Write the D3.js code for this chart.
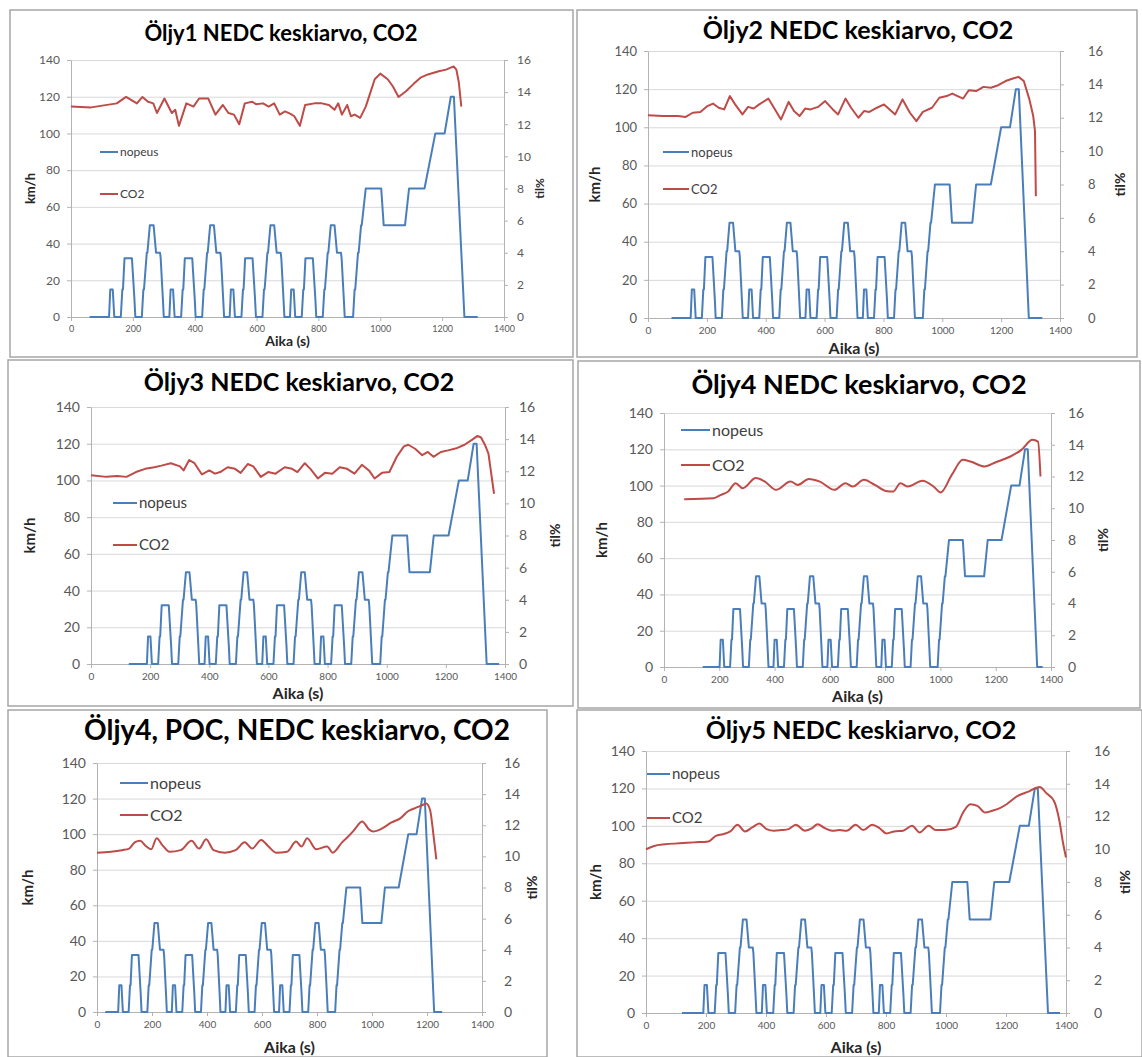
<!DOCTYPE html>
<html>
<head>
<meta charset="utf-8">
<script src="https://cdn.jsdelivr.net/npm/d3@7"></script>
<style>
  body { margin: 0; background: #ffffff; }
  svg { display: block; font-family: Lato, "Liberation Sans", sans-serif; }
</style>
</head>
<body>
<svg id="chart" width="1142" height="1057"></svg>
<script>
// ---- Data ---------------------------------------------------------------
const panelTitles = [
  "Öljy1 NEDC keskiarvo, CO2",
  "Öljy2 NEDC keskiarvo, CO2",
  "Öljy3 NEDC keskiarvo, CO2",
  "Öljy4 NEDC keskiarvo, CO2",
  "Öljy4, POC, NEDC keskiarvo, CO2",
  "Öljy5 NEDC keskiarvo, CO2"
];
const seriesNames = ["nopeus", "CO2"];
const timeTicks = [0, 200, 400, 600, 800, 1000, 1200, 1400];
const speedTicks = [0, 20, 40, 60, 80, 100, 120, 140];
const co2Ticks = [0, 2, 4, 6, 8, 10, 12, 14, 16];

// One urban (ECE) cycle: [s from cycle start, km/h]
const urbanCycle = [
  [0, 0], [11, 0], [15, 15], [23, 15], [28, 0], [49, 0], [54, 15], [56, 15], [61, 32],
  [85, 32], [93, 10], [96, 0], [117, 0], [122, 15], [124, 15], [133, 35], [135, 35],
  [143, 50], [155, 50], [163, 35], [176, 35], [178, 32], [185, 10], [188, 0]
];
const urbanCycleLength = 195;
const urbanCycleCount = 4;
// Extra-urban (EUDC) part: [s from its start, km/h]
const extraUrbanCycle = [
  [0, 0], [20, 0], [25, 15], [27, 15], [36, 35], [38, 35], [46, 50], [48, 50], [61, 70],
  [111, 70], [119, 50], [188, 50], [201, 70], [251, 70], [286, 100], [316, 100],
  [336, 120], [346, 120], [380, 0]
];
// Per chart: time when the speed trace begins, when the first urban cycle begins, and when the trace ends (s)
const speedTraceStart = [60, 80, 128, 140, 30, 120];
const speedCycleStart = [112, 134, 178, 190, 66, 180];
const speedTraceEnd = [1315, 1340, 1380, 1370, 1255, 1380];

// CO2 averages: [s, til%]
const co2Oljy1 = [
  [0, 13.1], [65, 13.05], [148, 13.3], [178, 13.7], [213, 13.3], [231, 13.7], [249, 13.4], [266, 13.3],
  [278, 12.7], [302, 13.6], [326, 12.7], [337, 12.9], [349, 11.9], [373, 13.3], [396, 13.1], [414, 13.6],
  [444, 13.6], [467, 12.6], [491, 13.2], [509, 12.7], [527, 12.6], [544, 12.0], [562, 13.3], [586, 13.4],
  [598, 13.25], [621, 13.3], [639, 13.1], [657, 13.3], [675, 12.6], [692, 12.8], [710, 12.65], [722, 12.5],
  [740, 11.9], [757, 13.2], [787, 13.3], [811, 13.3], [834, 13.2], [852, 12.9], [864, 13.3], [876, 12.6],
  [893, 13.2], [905, 12.5], [917, 12.6], [935, 12.4], [953, 13.1], [965, 13.8], [982, 14.8], [1000, 15.15],
  [1024, 14.8], [1041, 14.35], [1059, 13.7], [1083, 14.05], [1107, 14.5], [1130, 14.9], [1154, 15.1],
  [1189, 15.3], [1213, 15.4], [1237, 15.6], [1246, 15.4], [1254, 14.6], [1262, 13.1]
];
const co2Oljy2 = [
  [0, 12.15], [52, 12.1], [102, 12.1], [128, 12.05], [152, 12.3], [178, 12.35], [202, 12.7], [221, 12.85],
  [240, 12.6], [259, 12.5], [278, 13.3], [296, 12.8], [321, 12.2], [340, 12.65], [359, 12.55], [378, 12.8],
  [409, 13.15], [428, 12.6], [452, 11.9], [478, 12.95], [496, 12.4], [515, 12.1], [534, 12.55], [552, 12.5],
  [578, 12.65], [602, 13.0], [628, 12.5], [646, 12.2], [671, 13.15], [690, 12.6], [715, 12.0], [734, 12.4],
  [752, 12.35], [778, 12.6], [802, 12.8], [821, 12.5], [840, 12.2], [865, 13.1], [890, 12.3], [912, 11.8],
  [934, 12.35], [965, 12.6], [990, 13.2], [1015, 13.3], [1034, 13.45], [1052, 13.3], [1071, 13.15],
  [1090, 13.65], [1115, 13.6], [1140, 13.85], [1165, 13.8], [1190, 13.95], [1215, 14.2], [1240, 14.35],
  [1259, 14.45], [1277, 14.2], [1296, 13.1], [1309, 12.1], [1315, 11.2], [1318, 7.3]
];
const co2Oljy3 = [
  [0, 11.75], [52, 11.65], [89, 11.7], [120, 11.65], [152, 11.95], [183, 12.15], [214, 12.25], [238, 12.35],
  [270, 12.5], [301, 12.3], [313, 12.05], [332, 12.7], [350, 12.5], [375, 11.8], [400, 12.05], [419, 11.85],
  [437, 11.95], [462, 12.25], [487, 12.15], [506, 11.9], [530, 12.45], [549, 12.3], [574, 11.65], [599, 11.95],
  [624, 11.85], [655, 12.25], [680, 12.15], [698, 11.95], [723, 12.5], [742, 12.15], [767, 11.55], [791, 11.9],
  [816, 11.85], [841, 12.25], [866, 12.15], [891, 11.85], [916, 12.4], [940, 12.05], [959, 11.55], [984, 11.9],
  [1009, 11.95], [1034, 12.9], [1058, 13.55], [1073, 13.65], [1096, 13.4], [1120, 13.0], [1139, 13.2],
  [1158, 12.9], [1183, 13.2], [1207, 13.3], [1239, 13.45], [1263, 13.65], [1288, 13.95], [1307, 14.2],
  [1319, 14.1], [1332, 13.65], [1344, 13.1], [1363, 10.6]
];
const co2Oljy4 = [
  [73, 10.57], [179, 10.63], [206, 10.84], [232, 11.05], [259, 11.58], [285, 11.26], [332, 11.9], [365, 11.68],
  [405, 11.16], [458, 11.68], [484, 11.47], [524, 11.85], [564, 11.68], [617, 11.16], [656, 11.58], [683, 11.37],
  [723, 11.79], [763, 11.47], [802, 11.09], [829, 11.05], [855, 11.58], [882, 11.37], [935, 11.73], [975, 11.37],
  [1001, 11.0], [1041, 12.1], [1081, 13.05], [1108, 12.95], [1160, 12.63], [1200, 12.9], [1253, 13.26],
  [1293, 13.68], [1333, 14.32], [1353, 14.2], [1362, 12.0]
];
const co2Oljy4Poc = [
  [0, 10.24], [51, 10.3], [91, 10.4], [117, 10.5], [137, 10.9], [157, 11.0], [177, 10.67], [197, 10.46],
  [217, 11.17], [237, 10.74], [264, 10.3], [304, 10.4], [344, 11.0], [371, 10.5], [397, 11.1], [424, 10.4],
  [464, 10.24], [504, 10.4], [537, 10.9], [564, 10.5], [597, 11.06], [624, 10.63], [651, 10.24], [691, 10.3],
  [724, 10.95], [744, 10.63], [764, 11.17], [797, 10.46], [837, 10.63], [857, 10.24], [891, 10.9], [931, 11.6],
  [944, 11.9], [964, 12.24], [991, 11.7], [1004, 11.6], [1037, 11.8], [1071, 12.18], [1104, 12.46],
  [1131, 12.9], [1157, 13.1], [1184, 13.3], [1197, 13.4], [1211, 13.0], [1224, 11.3], [1234, 9.8]
];
const co2Oljy5 = [
  [0, 10.0], [27, 10.2], [63, 10.3], [111, 10.36], [160, 10.42], [208, 10.48], [233, 10.82], [257, 10.92],
  [281, 11.09], [305, 11.5], [330, 11.09], [354, 11.33], [378, 11.57], [402, 11.23], [427, 11.13], [451, 11.17],
  [475, 11.23], [499, 11.5], [530, 11.13], [554, 11.29], [572, 11.53], [596, 11.29], [621, 11.13], [645, 11.17],
  [669, 11.13], [699, 11.5], [724, 11.17], [754, 11.5], [778, 11.29], [802, 10.96], [827, 11.09], [857, 11.13],
  [887, 11.43], [912, 11.03], [942, 11.43], [966, 11.17], [996, 11.17], [1033, 11.37], [1057, 12.24],
  [1081, 12.75], [1105, 12.65], [1130, 12.24], [1154, 12.35], [1178, 12.5], [1202, 12.75], [1239, 13.26],
  [1275, 13.52], [1312, 13.8], [1336, 13.4], [1360, 12.95], [1378, 11.74], [1390, 10.4], [1400, 9.5]
];
const co2Series = [co2Oljy1, co2Oljy2, co2Oljy3, co2Oljy4, co2Oljy4Poc, co2Oljy5];

// ---- Layout (pixels) ------------------------------------------------------
// frame: [x, y, w, h]; plot: [left, right, top, bottom]; fonts: [y ticks, x ticks, axis titles, legend]
const layout = [
  { frame: [10, 10, 563, 347], plot: [71, 504, 60, 317], title: [281, 41, 22],
    legend: [100, 118, 152, 194], fonts: [12, 9, 14, 12], kmhX: 30, tilX: 540, aikaY: 346, rightPad: 9, smooth: false },
  { frame: [577, 10, 560, 347], plot: [648, 1060, 51, 318], title: [858, 39, 25],
    legend: [663, 689, 152, 189], fonts: [13, 10, 16, 13], kmhX: 595, tilX: 1120, aikaY: 354, rightPad: 24, smooth: false },
  { frame: [8, 360, 565, 346], plot: [91, 505, 407, 664], title: [299, 391, 25],
    legend: [113, 137, 503, 545], fonts: [14, 10, 16, 15], kmhX: 30, tilX: 555, aikaY: 699, rightPad: 10, smooth: false },
  { frame: [578, 361, 562, 347], plot: [664, 1051, 413, 667], title: [859, 394, 27],
    legend: [681, 710, 430, 465], fonts: [14, 10, 16, 16], kmhX: 602, tilX: 1103, aikaY: 702, rightPad: 13, smooth: true },
  { frame: [8, 710, 539, 347], plot: [97, 482, 763, 1012], title: [297, 740, 28],
    legend: [120, 148, 783, 815], fonts: [14, 10, 16, 16], kmhX: 28, tilX: 532, aikaY: 1053, rightPad: 18, smooth: true },
  { frame: [577, 710, 565, 347], plot: [646, 1066, 751, 1013], title: [861, 739, 25],
    legend: [647, 670, 774, 818], fonts: [14, 10, 16, 15], kmhX: 596, tilX: 1125, aikaY: 1053, rightPad: 24, smooth: true }
];

const speedColor = "#4a7ebb";
const co2Color = "#be4b48";
const gridColor = "#d9d9d9";
const axisColor = "#b3b3b3";
const labelColor = "#595959";

// Assemble the driving-cycle speed trace of one chart from the cycle tables
function speedTrace(i) {
  const start = speedCycleStart[i];
  const pts = [[speedTraceStart[i], 0]];
  for (let k = 0; k < urbanCycleCount; k++) {
    urbanCycle.forEach(([t, v]) => pts.push([start + k * urbanCycleLength + t, v]));
  }
  const eudcStart = start + urbanCycleCount * urbanCycleLength;
  extraUrbanCycle.forEach(([t, v]) => pts.push([eudcStart + t, v]));
  pts.push([speedTraceEnd[i], 0]);
  return pts;
}

const svg = d3.select("#chart");

function styleAxis(s, fontSize) {
  s.select(".domain").attr("stroke", axisColor);
  s.selectAll("line").attr("stroke", axisColor);
  s.selectAll("text").attr("fill", labelColor)
    .style("font-size", fontSize + "px").style("font-family", "Lato, sans-serif");
}

layout.forEach((L, i) => {
  const g = svg.append("g");
  const [left, right, top, bottom] = L.plot;
  const [fsY, fsX, fsTitle, fsLegend] = L.fonts;

  g.append("rect")
    .attr("x", L.frame[0]).attr("y", L.frame[1])
    .attr("width", L.frame[2]).attr("height", L.frame[3])
    .attr("fill", "#ffffff").attr("stroke", "#a6a6a6").attr("stroke-width", 1.5);

  const x = d3.scaleLinear().domain([0, 1400]).range([left, right]);
  const ySpeed = d3.scaleLinear().domain([0, 140]).range([bottom, top]);
  const yCo2 = d3.scaleLinear().domain([0, 16]).range([bottom, top]);

  // horizontal gridlines
  g.append("g")
    .attr("transform", `translate(${left},0)`)
    .call(d3.axisLeft(ySpeed).tickValues(speedTicks.slice(1)).tickSize(-(right - left)).tickFormat(""))
    .call(s => {
      s.select(".domain").remove();
      s.selectAll("line").attr("stroke", gridColor).attr("stroke-width", 1);
    });

  // left axis (km/h)
  g.append("g")
    .attr("transform", `translate(${left},0)`)
    .call(d3.axisLeft(ySpeed).tickValues(speedTicks).tickFormat(d3.format("d"))
      .tickSizeInner(4).tickSizeOuter(0).tickPadding(7))
    .call(s => styleAxis(s, fsY));

  // right axis (til%)
  g.append("g")
    .attr("transform", `translate(${right},0)`)
    .call(d3.axisRight(yCo2).tickValues(co2Ticks).tickFormat(d3.format("d"))
      .tickSizeInner(4).tickSizeOuter(0).tickPadding(L.rightPad))
    .call(s => styleAxis(s, fsY));

  // time axis
  g.append("g")
    .attr("transform", `translate(0,${bottom})`)
    .call(d3.axisBottom(x).tickValues(timeTicks).tickFormat(d3.format("d"))
      .tickSizeInner(4).tickSizeOuter(0).tickPadding(5))
    .call(s => styleAxis(s, fsX));

  // series
  const speedLine = d3.line().x(d => x(d[0])).y(d => ySpeed(d[1]));
  const co2Line = d3.line().x(d => x(d[0])).y(d => yCo2(d[1]))
    .curve(L.smooth ? d3.curveMonotoneX : d3.curveLinear);

  g.append("path").datum(speedTrace(i))
    .attr("d", speedLine).attr("fill", "none")
    .attr("stroke", speedColor).attr("stroke-width", 2).attr("stroke-linejoin", "round");
  g.append("path").datum(co2Series[i])
    .attr("d", co2Line).attr("fill", "none")
    .attr("stroke", co2Color).attr("stroke-width", 2).attr("stroke-linejoin", "round");

  // title
  g.append("text")
    .attr("x", L.title[0]).attr("y", L.title[1])
    .attr("text-anchor", "middle")
    .style("font-size", L.title[2] + "px").style("font-weight", "bold")
    .attr("fill", "#000000")
    .text(panelTitles[i]);

  // axis titles
  const midY = (top + bottom) / 2;
  g.append("text")
    .attr("transform", `translate(${L.kmhX},${midY}) rotate(-90)`)
    .attr("text-anchor", "middle").attr("dy", "0.35em")
    .style("font-size", (fsTitle - 1) + "px").style("font-weight", "bold")
    .attr("fill", "#262626").text("km/h");
  g.append("text")
    .attr("transform", `translate(${L.tilX},${midY}) rotate(-90)`)
    .attr("text-anchor", "middle").attr("dy", "0.35em")
    .style("font-size", (fsTitle - 2) + "px").style("font-weight", "bold")
    .attr("fill", "#262626").text("til%");
  g.append("text")
    .attr("x", (left + right) / 2).attr("y", L.aikaY)
    .attr("text-anchor", "middle")
    .style("font-size", fsTitle + "px").style("font-weight", "bold")
    .attr("fill", "#262626").text("Aika (s)");

  // legend
  const [lx0, lx1, ly0, ly1] = L.legend;
  [[ly0, speedColor, seriesNames[0]], [ly1, co2Color, seriesNames[1]]].forEach(([ly, col, name]) => {
    g.append("line")
      .attr("x1", lx0).attr("x2", lx1).attr("y1", ly).attr("y2", ly)
      .attr("stroke", col).attr("stroke-width", 2);
    g.append("text")
      .attr("x", lx1 + 2).attr("y", ly).attr("dy", "0.35em")
      .style("font-size", fsLegend + "px").attr("fill", "#404040")
      .text(name);
  });
});
</script>
</body>
</html>
